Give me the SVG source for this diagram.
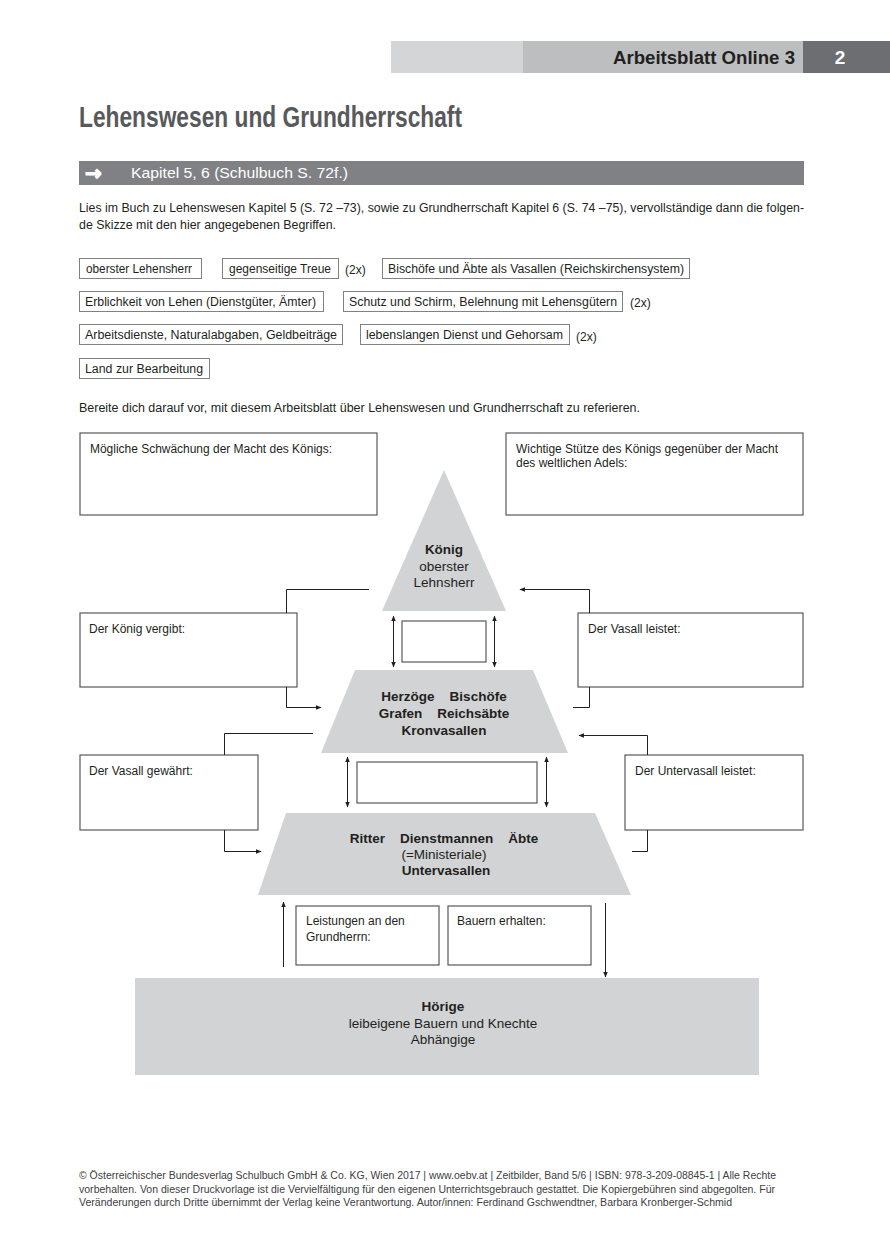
<svg xmlns="http://www.w3.org/2000/svg" width="890" height="1248" viewBox="0 0 890 1248">
<style>
text{font-family:"Liberation Sans",Arial,sans-serif;fill:#231f20}
.t12{font-size:12px}
.b{font-weight:bold}
.box{fill:#fff;stroke:#58595b;stroke-width:1.2}
.wb{fill:#fff;stroke:#808184;stroke-width:1}
.py{fill:#d1d3d4}
.pt{font-size:13.5px;text-anchor:middle}
.ln{fill:none;stroke:#231f20;stroke-width:1}
.arr{fill:none;stroke:#231f20;stroke-width:1;marker-end:url(#ah)}
.dbl{fill:none;stroke:#231f20;stroke-width:1;marker-start:url(#ahs);marker-end:url(#ah)}
.ft{font-size:10px;fill:#414042}
</style>
<defs>
<marker id="ah" viewBox="0 0 10 10" refX="9" refY="5" markerWidth="6" markerHeight="6" orient="auto" markerUnits="userSpaceOnUse"><path d="M0,1 L10,5 L0,9 z" fill="#231f20"/></marker>
<marker id="ahs" viewBox="0 0 10 10" refX="1" refY="5" markerWidth="6" markerHeight="6" orient="auto" markerUnits="userSpaceOnUse"><path d="M10,1 L0,5 L10,9 z" fill="#231f20"/></marker>
</defs>
<rect width="890" height="1248" fill="#fff"/>

<g id="header">
<rect x="391" y="41" width="132" height="32" fill="#d4d5d7"/>
<rect x="523" y="41" width="280" height="32" fill="#bcbec0"/>
<rect x="803" y="41" width="87" height="32" fill="#6d6e71"/>
<text x="795" y="64" text-anchor="end" class="b" style="font-size:18.5px" textLength="182" lengthAdjust="spacingAndGlyphs">Arbeitsblatt Online 3</text>
<text x="840" y="64" text-anchor="middle" class="b" style="font-size:19px;fill:#fff">2</text>
</g>

<g id="title">
<text x="79" y="127" class="b" style="font-size:29px;fill:#58595b" textLength="383" lengthAdjust="spacingAndGlyphs">Lehenswesen und Grundherrschaft</text>
</g>

<g id="kapitel">
<rect x="79" y="161" width="725" height="24" fill="#808184"/>
<text x="85" y="180" class="b" style="font-family:'DejaVu Sans',sans-serif;font-size:20px;fill:#fff;stroke:#fff;stroke-width:1.2">→</text>
<text x="131" y="178" style="font-size:14px;fill:#fff" textLength="217" lengthAdjust="spacingAndGlyphs">Kapitel 5, 6 (Schulbuch S. 72f.)</text>
</g>

<g id="intro">
<text x="79" y="212" class="t12" textLength="725" lengthAdjust="spacingAndGlyphs">Lies im Buch zu Lehenswesen Kapitel 5 (S. 72 –73), sowie zu Grundherrschaft Kapitel 6 (S. 74 –75), vervollständige dann die folgen-</text>
<text x="79" y="229" class="t12" textLength="257" lengthAdjust="spacingAndGlyphs">de Skizze mit den hier angegebenen Begriffen.</text>
</g>

<g id="wordbank">
<rect class="wb" x="79.5" y="258.5" width="122" height="20"/>
<text x="86" y="273" class="t12" textLength="106" lengthAdjust="spacingAndGlyphs">oberster Lehensherr</text>
<rect class="wb" x="222.5" y="258.5" width="116" height="20"/>
<text x="229" y="273" class="t12" textLength="102" lengthAdjust="spacingAndGlyphs">gegenseitige Treue</text>
<text x="345" y="274" class="t12">(2x)</text>
<rect class="wb" x="382.5" y="258.5" width="307" height="20"/>
<text x="388" y="273" class="t12" textLength="296" lengthAdjust="spacingAndGlyphs">Bischöfe und Äbte als Vasallen (Reichskirchensystem)</text>

<rect class="wb" x="79.5" y="291.5" width="244" height="20"/>
<text x="85" y="306" class="t12" textLength="231" lengthAdjust="spacingAndGlyphs">Erblichkeit von Lehen (Dienstgüter, Ämter)</text>
<rect class="wb" x="343.5" y="291.5" width="279" height="20"/>
<text x="349" y="306" class="t12" textLength="268" lengthAdjust="spacingAndGlyphs">Schutz und Schirm, Belehnung mit Lehensgütern</text>
<text x="630" y="307" class="t12">(2x)</text>

<rect class="wb" x="79.5" y="324.5" width="263" height="20"/>
<text x="85" y="339" class="t12" textLength="252" lengthAdjust="spacingAndGlyphs">Arbeitsdienste, Naturalabgaben, Geldbeiträge</text>
<rect class="wb" x="360.5" y="324.5" width="209" height="20"/>
<text x="366" y="339" class="t12" textLength="197" lengthAdjust="spacingAndGlyphs">lebenslangen Dienst und Gehorsam</text>
<text x="576" y="341" class="t12">(2x)</text>

<rect class="wb" x="79.5" y="358.5" width="130" height="20"/>
<text x="85" y="373" class="t12" textLength="118" lengthAdjust="spacingAndGlyphs">Land zur Bearbeitung</text>
</g>

<g id="instruction">
<text x="79" y="412" class="t12" textLength="561" lengthAdjust="spacingAndGlyphs">Bereite dich darauf vor, mit diesem Arbeitsblatt über Lehenswesen und Grundherrschaft zu referieren.</text>
</g>

<g id="box-schwaechung">
<rect class="box" x="80" y="433" width="297" height="82"/>
<text x="90" y="453" class="t12" textLength="242" lengthAdjust="spacingAndGlyphs">Mögliche Schwächung der Macht des Königs:</text>
</g>
<g id="box-stuetze">
<rect class="box" x="506" y="433" width="297" height="82"/>
<text x="516" y="453" class="t12" textLength="262" lengthAdjust="spacingAndGlyphs">Wichtige Stütze des Königs gegenüber der Macht</text>
<text x="516" y="467" class="t12">des weltlichen Adels:</text>
</g>

<g id="koenig">
<polygon class="py" points="444,470 506,611 382,611"/>
<text x="444" y="554" class="pt b">König</text>
<text x="444" y="571" class="pt">oberster</text>
<text x="444" y="587" class="pt">Lehnsherr</text>
</g>

<g id="kronvasallen">
<polygon class="py" points="355,670 533,670 568,753 321,753"/>
<text x="444" y="701" class="pt b" xml:space="preserve">Herzöge    Bischöfe</text>
<text x="444" y="718" class="pt b" xml:space="preserve">Grafen    Reichsäbte</text>
<text x="444" y="735" class="pt b">Kronvasallen</text>
</g>

<g id="untervasallen">
<polygon class="py" points="286,813 595,813 631,895 258,895"/>
<text x="444" y="843" class="pt b" xml:space="preserve">Ritter    Dienstmannen    Äbte</text>
<text x="444" y="859" class="pt">(=Ministeriale)</text>
<text x="446" y="875" class="pt b">Untervasallen</text>
</g>

<g id="hoerige">
<rect class="py" x="135" y="978" width="624" height="97"/>
<text x="443" y="1011" class="pt b">Hörige</text>
<text x="443" y="1028" class="pt">leibeigene Bauern und Knechte</text>
<text x="443" y="1044" class="pt">Abhängige</text>
</g>

<g id="treue-1"><rect class="box" x="402" y="621" width="84" height="41"/></g>
<g id="treue-2"><rect class="box" x="357" y="762" width="180" height="41"/></g>

<g id="box-koenig-vergibt">
<rect class="box" x="80" y="613" width="217" height="74"/>
<text x="89" y="633" class="t12">Der König vergibt:</text>
</g>
<g id="box-vasall-leistet">
<rect class="box" x="578" y="613" width="225" height="74"/>
<text x="588" y="633" class="t12">Der Vasall leistet:</text>
</g>
<g id="box-vasall-gewaehrt">
<rect class="box" x="80" y="755" width="178" height="75"/>
<text x="89" y="775" class="t12">Der Vasall gewährt:</text>
</g>
<g id="box-untervasall-leistet">
<rect class="box" x="625" y="755" width="178" height="75"/>
<text x="635" y="775" class="t12">Der Untervasall leistet:</text>
</g>
<g id="box-leistungen">
<rect class="box" x="296" y="906" width="143" height="59"/>
<text x="306" y="925" class="t12">Leistungen an den</text>
<text x="306" y="941" class="t12">Grundherrn:</text>
</g>
<g id="box-bauern">
<rect class="box" x="448" y="906" width="143" height="59"/>
<text x="457" y="925" class="t12">Bauern erhalten:</text>
</g>

<g id="connectors">
<path class="ln" d="M369,589.5 H286.5 V613"/>
<path class="arr" d="M286.5,687 V707.5 H321"/>
<path class="arr" d="M589.5,613 V589.5 H520"/>
<path class="ln" d="M573,707.5 H589.5 V687"/>
<path class="ln" d="M313,733.5 H224.5 V755"/>
<path class="arr" d="M224.5,830 V851.5 H261"/>
<path class="arr" d="M647.5,755 V735.5 H579"/>
<path class="ln" d="M632,851.5 H647.5 V830"/>
<path class="dbl" d="M393.5,616 V667"/>
<path class="dbl" d="M494.5,616 V667"/>
<path class="dbl" d="M347.5,757 V807"/>
<path class="dbl" d="M546.5,757 V807"/>
<path class="arr" d="M283.5,967 V902"/>
<path class="arr" d="M605.5,903 V977"/>
</g>

<g id="footer">
<text x="79" y="1179" class="ft" textLength="697" lengthAdjust="spacingAndGlyphs">© Österreichischer Bundesverlag Schulbuch GmbH &amp; Co. KG, Wien 2017 | www.oebv.at | Zeitbilder, Band 5/6 | ISBN: 978-3-209-08845-1 | Alle Rechte</text>
<text x="79" y="1193" class="ft" textLength="696" lengthAdjust="spacingAndGlyphs">vorbehalten. Von dieser Druckvorlage ist die Vervielfältigung für den eigenen Unterrichtsgebrauch gestattet. Die Kopiergebühren sind abgegolten. Für</text>
<text x="79" y="1206" class="ft" textLength="653" lengthAdjust="spacingAndGlyphs">Veränderungen durch Dritte übernimmt der Verlag keine Verantwortung. Autor/innen: Ferdinand Gschwendtner, Barbara Kronberger-Schmid</text>
</g>
</svg>
